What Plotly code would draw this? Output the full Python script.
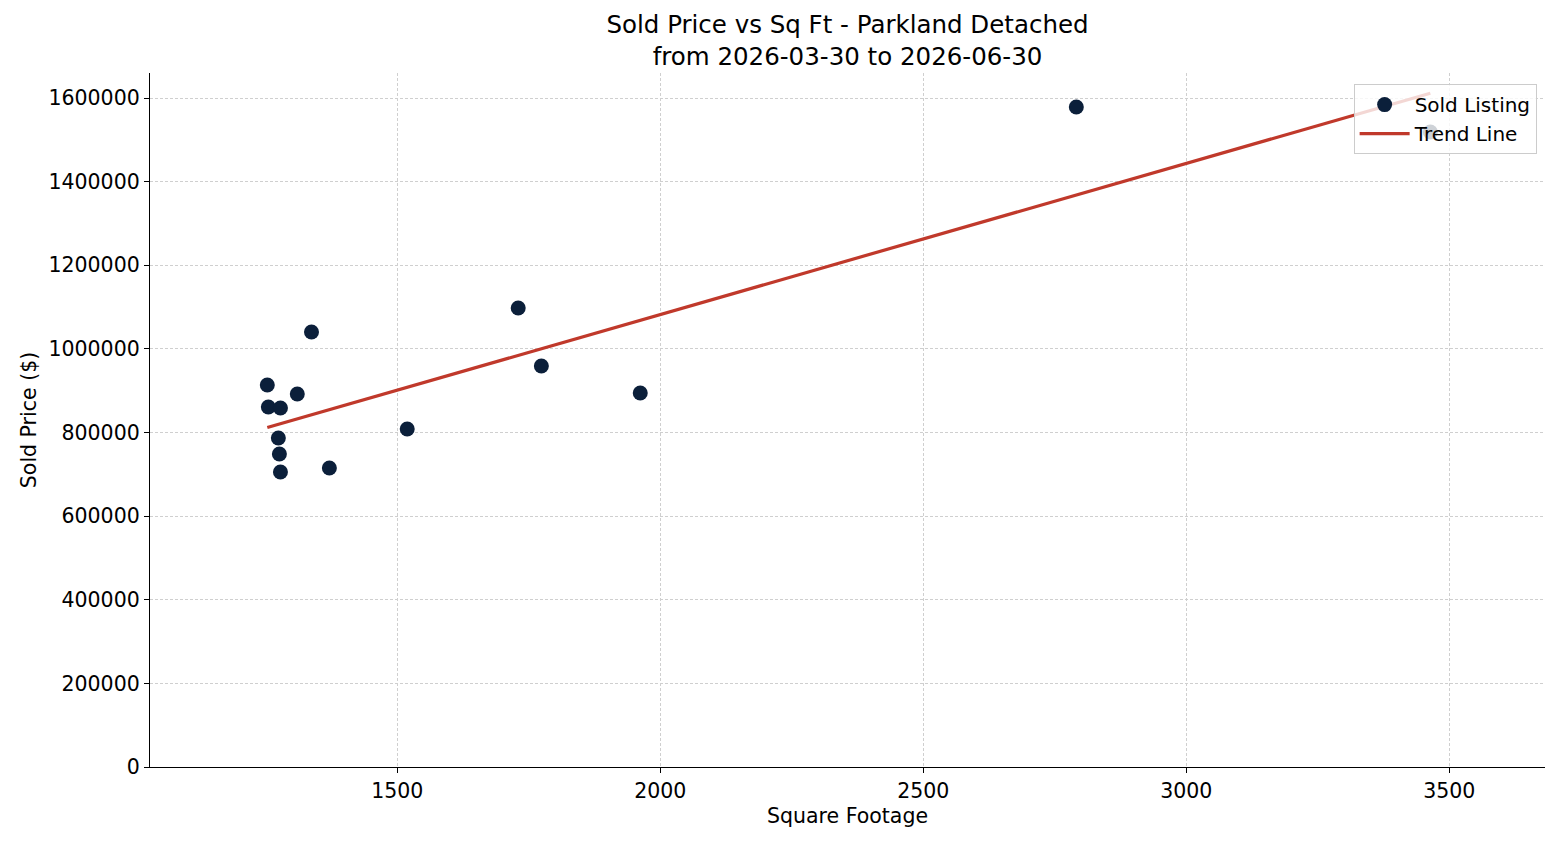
import numpy as np
import plotly.graph_objects as go

sqft = [1253, 1255, 1278, 1274, 1276, 1278, 1310, 1337, 1371, 1519, 1730, 1774, 1962, 2791, 3464]
price = [913700, 861000, 858600, 786900, 748600, 705600, 892100, 1040400, 715100, 808400,
         1097800, 959100, 894500, 1578600, 1518800]
x_ticks = [1500, 2000, 2500, 3000, 3500]
y_ticks = [0, 200000, 400000, 600000, 800000, 1000000, 1200000, 1400000, 1600000]

slope, intercept = np.polyfit(sqft, price, 1)
tx = np.array([min(sqft), max(sqft)])
ty = slope * tx + intercept

font = "DejaVu Sans, Liberation Sans, sans-serif"
fig = go.Figure()
fig.add_trace(go.Scatter(x=sqft, y=price, mode="markers", name="Sold Listing",
                         marker=dict(color="#0b1f3a", size=15, line=dict(width=0))))
fig.add_trace(go.Scatter(x=tx, y=ty, mode="lines", name="Trend Line",
                         line=dict(color="#c0392b", width=3.2)))

fig.update_layout(
    width=1560, height=845,
    margin=dict(l=150, r=15, t=73, b=78),
    paper_bgcolor="white", plot_bgcolor="white",
    font=dict(family=font, size=20, color="black"),
    title=dict(text="Sold Price vs Sq Ft - Parkland Detached<br>from 2026-03-30 to 2026-06-30",
               x=(150 + 1545) / 2 / 1560, xanchor="center",
               yref="container", y=1 - 33 / 845, yanchor="middle",
               font=dict(size=24.5, family=font)),
    showlegend=True,
    legend=dict(x=0.994, y=0.984, xanchor="right", yanchor="top",
                bgcolor="rgba(255,255,255,0.8)", bordercolor="#cccccc", borderwidth=1,
                font=dict(size=20, family=font), tracegroupgap=0, itemwidth=50),
)
fig.update_xaxes(range=[1030, 3682], tickvals=x_ticks,
                 title=dict(text="Square Footage", font=dict(size=20.5), standoff=6),
                 showgrid=True, gridcolor="#cfcfcf", griddash="3px,2px", gridwidth=0.8,
                 showline=True, linecolor="black", linewidth=1.3, ticks="outside", ticklen=5,
                 tickcolor="black", zeroline=False, tickfont=dict(size=20.5))
fig.update_yaxes(range=[0, 1660000], tickvals=y_ticks, tickformat="d",
                 title=dict(text="Sold Price ($)", font=dict(size=20.5), standoff=6),
                 showgrid=True, gridcolor="#cfcfcf", griddash="3px,2px", gridwidth=0.8,
                 showline=True, linecolor="black", linewidth=1.3, ticks="outside", ticklen=5,
                 tickcolor="black", zeroline=False, tickfont=dict(size=20.5))

fig.write_html("out.html")
